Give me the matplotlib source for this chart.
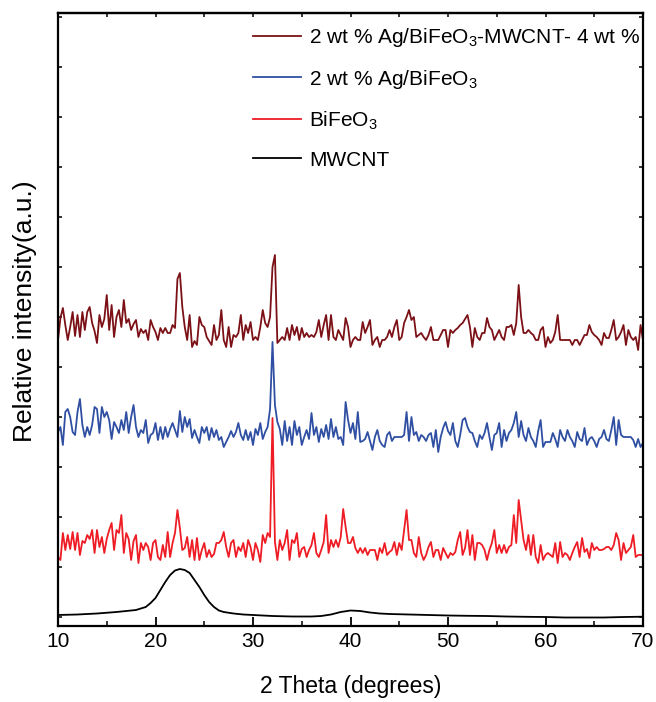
import numpy as np
import matplotlib
matplotlib.use("Agg")
import matplotlib.pyplot as plt
from matplotlib.ticker import MultipleLocator

plt.rcParams['font.family'] = ['Liberation Sans', 'DejaVu Sans']
plt.rcParams['mathtext.fontset'] = 'custom'
plt.rcParams['mathtext.rm'] = 'Liberation Sans'
plt.rcParams['mathtext.it'] = 'Liberation Sans:italic'

# 2 theta scan, 0.25 deg step, stacked intensities (a.u.)
two_theta = np.linspace(10, 70, 241)

ag_bfo_mwcnt = [
    277, 299, 309, 292, 277, 290, 305, 281, 302, 280, 305, 287, 305, 310, 294, 286, 274, 302, 290, 298,
    322, 287, 312, 280, 300, 307, 290, 317, 294, 298, 287, 293, 297, 280, 288, 284, 287, 277, 297, 290,
    285, 277, 289, 284, 289, 284, 284, 292, 289, 338, 344, 310, 290, 277, 302, 270, 276, 272, 300, 292,
    290, 280, 276, 272, 292, 277, 282, 307, 277, 270, 290, 270, 282, 280, 284, 302, 277, 292, 284, 295,
    277, 280, 277, 290, 307, 294, 290, 300, 350, 362, 274, 277, 280, 277, 289, 277, 292, 282, 290, 277,
    289, 280, 284, 280, 282, 280, 285, 297, 280, 292, 302, 277, 302, 280, 277, 287, 282, 277, 299, 290,
    270, 277, 280, 277, 277, 295, 284, 290, 297, 272, 277, 280, 270, 277, 277, 280, 287, 280, 290, 297,
    277, 280, 294, 300, 307, 297, 300, 280, 282, 284, 280, 277, 282, 290, 277, 277, 277, 282, 287, 287,
    270, 287, 284, 287, 289, 292, 294, 298, 302, 290, 270, 289, 280, 277, 284, 284, 299, 290, 287, 277,
    282, 287, 280, 277, 290, 290, 292, 282, 294, 332, 300, 284, 284, 287, 284, 282, 277, 277, 287, 290,
    270, 280, 274, 277, 285, 302, 277, 277, 277, 277, 277, 272, 277, 277, 272, 277, 282, 282, 292, 285,
    282, 280, 277, 272, 284, 279, 279, 287, 297, 277, 280, 285, 292, 272, 287, 280, 277, 280, 267, 292,
    277,
]

ag_bfo = [
    185, 190, 172, 205, 208, 200, 185, 182, 205, 218, 192, 180, 190, 182, 192, 210, 208, 184, 210, 200,
    205, 197, 178, 195, 190, 184, 197, 187, 205, 184, 200, 212, 190, 180, 187, 184, 197, 174, 182, 184,
    194, 177, 190, 178, 190, 180, 188, 194, 187, 180, 206, 185, 200, 190, 198, 179, 187, 180, 174, 190,
    184, 190, 177, 189, 180, 187, 177, 180, 170, 175, 180, 186, 180, 185, 194, 182, 177, 187, 177, 185,
    172, 188, 182, 194, 178, 185, 190, 208, 275, 212, 195, 188, 172, 196, 176, 190, 172, 196, 182, 190,
    172, 180, 187, 178, 204, 182, 190, 175, 188, 180, 192, 178, 198, 180, 190, 178, 180, 172, 215, 197,
    184, 194, 178, 205, 175, 176, 178, 185, 176, 167, 180, 187, 176, 172, 170, 182, 185, 176, 180, 180,
    180, 180, 182, 205, 176, 200, 182, 185, 176, 182, 180, 176, 182, 184, 170, 187, 165, 180, 189, 195,
    186, 182, 194, 176, 170, 182, 197, 199, 190, 185, 184, 176, 170, 182, 178, 184, 194, 180, 167, 182,
    184, 194, 170, 187, 176, 184, 187, 194, 205, 180, 196, 182, 176, 189, 180, 176, 170, 186, 197, 170,
    175, 175, 175, 184, 178, 170, 187, 180, 176, 187, 180, 176, 170, 185, 178, 176, 189, 172, 178, 180,
    176, 170, 178, 180, 187, 178, 176, 187, 200, 172, 197, 182, 180, 180, 180, 180, 177, 170, 178, 170,
    174,
]

bfo = [
    60, 57, 84, 67, 82, 68, 85, 67, 84, 62, 76, 74, 82, 78, 87, 64, 87, 70, 80, 64,
    78, 87, 94, 67, 87, 84, 102, 64, 84, 78, 57, 76, 82, 54, 74, 67, 74, 70, 57, 74,
    77, 60, 57, 72, 60, 85, 60, 74, 84, 107, 89, 67, 69, 80, 60, 77, 57, 79, 57, 67,
    74, 60, 67, 60, 63, 74, 74, 77, 85, 70, 60, 74, 77, 60, 70, 66, 74, 60, 77, 70,
    57, 74, 67, 55, 82, 74, 84, 80, 199, 75, 57, 77, 67, 74, 87, 57, 77, 74, 84, 60,
    68, 70, 60, 67, 72, 84, 64, 60, 67, 75, 102, 64, 77, 70, 77, 70, 80, 108, 90, 74,
    74, 80, 69, 64, 69, 64, 69, 62, 67, 67, 67, 57, 69, 64, 74, 62, 65, 67, 75, 62,
    74, 67, 87, 107, 77, 77, 64, 60, 80, 64, 57, 62, 70, 75, 60, 67, 67, 57, 69, 64,
    59, 64, 62, 65, 77, 85, 62, 69, 87, 62, 82, 57, 74, 74, 72, 67, 57, 67, 74, 87,
    64, 72, 64, 72, 64, 70, 72, 102, 74, 117, 97, 77, 67, 82, 62, 82, 60, 54, 72, 57,
    62, 64, 62, 60, 74, 54, 75, 60, 64, 62, 57, 64, 70, 75, 60, 79, 65, 68, 59, 74,
    67, 70, 67, 67, 68, 70, 70, 67, 72, 84, 77, 57, 74, 64, 67, 70, 82, 60, 62, 62,
    62,
]

# MWCNT broad (002) hump, smooth trace
mwcnt_theta = [10, 12, 14, 16, 18, 19, 19.5, 20, 20.5, 21, 21.5, 22, 22.5, 23, 23.5, 24, 24.5,
               25, 25.5, 26, 26.5, 27, 28, 29, 30, 32, 34, 36, 37, 38, 39, 40, 41, 42, 43, 44,
               46, 48, 50, 52, 54, 56, 58, 60, 62, 64, 66, 68, 70]
mwcnt = [2, 2.5, 3.5, 5, 7, 10, 14, 19, 27, 35, 42, 46.5, 48, 47, 44, 37, 30,
         22, 15, 10, 6.5, 5, 3.5, 2.5, 2, 1, 0.5, 0.5, 1, 2.5, 5, 6.5, 6, 4.5, 3.5, 3,
         2.5, 2, 1.5, 1.2, 1, 0.5, 0.2, 0, -0.5, -0.5, -0.5, 0, 0.3]

labels = ['2 wt % Ag/BiFeO$_3$-MWCNT- 4 wt %', '2 wt % Ag/BiFeO$_3$', 'BiFeO$_3$', 'MWCNT']
colors = ['#7b1116', '#2f4fa2', '#ee1c24', '#000000']

fig = plt.figure(figsize=(6.56, 7.02), dpi=100)
ax = fig.add_axes([58 / 656, 76.5 / 702, 585 / 656, 612.5 / 702])

series = [(two_theta, ag_bfo_mwcnt), (two_theta, ag_bfo), (two_theta, bfo), (mwcnt_theta, mwcnt)]
for (x, y), lab, c in zip(series, labels, colors):
    ax.plot(x, y, color=c, lw=1.3, label=lab)

ax.set_xlim(10, 70)
ax.set_ylim(-8.5, 604)
ax.xaxis.set_major_locator(MultipleLocator(10))
ax.xaxis.set_minor_locator(MultipleLocator(5))
ax.yaxis.set_major_locator(MultipleLocator(50))
ax.set_yticklabels([])
ax.tick_params(axis='x', which='major', direction='in', length=6.5, width=1.3, labelsize=15, pad=5)
ax.tick_params(axis='x', which='minor', direction='in', length=3.5, width=1.1)
ax.tick_params(axis='y', which='major', direction='in', length=3, width=1.1, right=True)
for s in ax.spines.values():
    s.set_linewidth(1.6)

# short ticks along the top edge every 5 degrees
top = ax.secondary_xaxis('top')
top.xaxis.set_major_locator(MultipleLocator(5))
top.tick_params(direction='in', length=3, width=1.1, labeltop=False)
top.spines['top'].set_linewidth(1.6)

ax.set_xlabel('2 Theta (degrees)', fontsize=16.5)
ax.xaxis.set_label_coords(0.5, -0.08)
ax.set_ylabel('Relative intensity(a.u.)', fontsize=19)
ax.yaxis.set_label_coords(-0.036, 0.513)

ax.legend(loc='upper left', bbox_to_anchor=(253 / 656, 1 - 26 / 702), bbox_transform=fig.transFigure,
          frameon=False, fontsize=15, handlelength=2.3, handletextpad=0.4, labelspacing=0.9,
          borderpad=0, borderaxespad=0)

fig.savefig('out.png', dpi=100)
